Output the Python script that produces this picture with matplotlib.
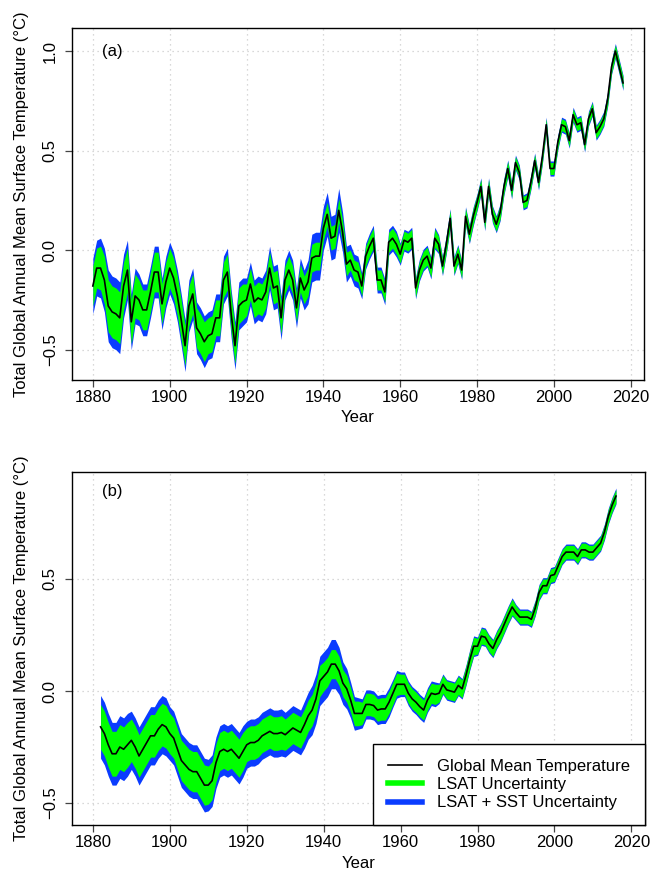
import numpy as np
import matplotlib.pyplot as plt

plt.rcParams['font.family'] = ['Liberation Sans', 'DejaVu Sans']
plt.rcParams['font.size'] = 12

# annual global mean temperature anomalies, 1880-2018
years_a = np.arange(1880, 2019)
temp_a = [
    -0.18, -0.09, -0.09, -0.15, -0.28, -0.31, -0.32, -0.34, -0.18, -0.10,
    -0.36, -0.23, -0.25, -0.30, -0.30, -0.21, -0.11, -0.11, -0.27, -0.16,
    -0.09, -0.14, -0.23, -0.35, -0.48, -0.28, -0.22, -0.39, -0.42, -0.46,
    -0.43, -0.42, -0.34, -0.34, -0.15, -0.11, -0.32, -0.48, -0.28, -0.26,
    -0.25, -0.17, -0.26, -0.24, -0.25, -0.21, -0.09, -0.19, -0.18, -0.34,
    -0.15, -0.10, -0.15, -0.29, -0.14, -0.20, -0.16, -0.04, -0.03, -0.03,
    0.11, 0.18, 0.06, 0.07, 0.20, 0.09, -0.07, -0.05, -0.10, -0.11,
    -0.18, -0.03, 0.02, 0.06, -0.15, -0.15, -0.21, 0.04, 0.06, 0.03,
    -0.02, 0.05, 0.04, 0.06, -0.19, -0.10, -0.05, -0.03, -0.09, 0.06,
    0.03, -0.08, 0.03, 0.16, -0.08, -0.02, -0.10, 0.17, 0.08, 0.17,
    0.24, 0.32, 0.14, 0.32, 0.18, 0.13, 0.19, 0.32, 0.41, 0.30,
    0.44, 0.39, 0.24, 0.25, 0.34, 0.45, 0.34, 0.47, 0.63, 0.41,
    0.41, 0.54, 0.63, 0.62, 0.55, 0.68, 0.63, 0.64, 0.53, 0.66,
    0.71, 0.59, 0.62, 0.66, 0.76, 0.92, 1.00, 0.92, 0.84,
]
# half-width of the LSAT uncertainty band
lsat_a = [
    0.10, 0.10, 0.11, 0.12, 0.13, 0.13, 0.13, 0.13, 0.12, 0.11,
    0.11, 0.11, 0.10, 0.10, 0.10, 0.10, 0.10, 0.10, 0.10, 0.10,
    0.10, 0.10, 0.10, 0.10, 0.10, 0.10, 0.10, 0.10, 0.10, 0.10,
    0.09, 0.09, 0.09, 0.09, 0.09, 0.09, 0.09, 0.09, 0.09, 0.09,
    0.08, 0.08, 0.08, 0.08, 0.08, 0.08, 0.08, 0.08, 0.08, 0.08,
    0.07, 0.07, 0.07, 0.07, 0.07, 0.07, 0.07, 0.07, 0.07, 0.07,
    0.06, 0.06, 0.06, 0.06, 0.06, 0.06, 0.06, 0.05, 0.05, 0.05,
    0.05, 0.05, 0.05, 0.05, 0.05, 0.05, 0.05, 0.05, 0.05, 0.05,
    0.045, 0.045, 0.045, 0.045, 0.045, 0.045, 0.045, 0.045, 0.045, 0.045,
    0.04, 0.04, 0.04, 0.04, 0.04, 0.04, 0.04, 0.04, 0.04, 0.04,
    0.035, 0.035, 0.035, 0.035, 0.035, 0.035, 0.035, 0.035, 0.035, 0.035,
    0.03, 0.03, 0.03, 0.03, 0.03, 0.03, 0.03, 0.03, 0.03, 0.03,
    0.03, 0.03, 0.03, 0.03, 0.03, 0.03, 0.03, 0.03, 0.03, 0.03,
    0.03, 0.03, 0.03, 0.03, 0.03, 0.03, 0.03, 0.03, 0.03,
]
# extra width added by SST uncertainty
sst_a = [
    0.04, 0.04, 0.04, 0.04, 0.05, 0.05, 0.05, 0.05, 0.04, 0.04,
    0.03, 0.03, 0.03, 0.03, 0.03, 0.03, 0.03, 0.03, 0.03, 0.03,
    0.03, 0.03, 0.03, 0.03, 0.03, 0.03, 0.03, 0.03, 0.03, 0.03,
    0.03, 0.03, 0.03, 0.03, 0.03, 0.03, 0.03, 0.03, 0.03, 0.03,
    0.03, 0.03, 0.03, 0.03, 0.03, 0.03, 0.03, 0.03, 0.03, 0.03,
    0.03, 0.03, 0.03, 0.03, 0.03, 0.03, 0.04, 0.05, 0.05, 0.05,
    0.05, 0.05, 0.05, 0.05, 0.05, 0.04, 0.03, 0.03, 0.03, 0.03,
    0.015, 0.015, 0.015, 0.015, 0.015, 0.015, 0.015, 0.015, 0.015, 0.015,
    0.01, 0.01, 0.01, 0.01, 0.01, 0.01, 0.01, 0.01, 0.01, 0.01,
    0.008, 0.008, 0.008, 0.008, 0.008, 0.008, 0.008, 0.008, 0.008, 0.008,
    0.008, 0.008, 0.008, 0.008, 0.008, 0.008, 0.008, 0.008, 0.008, 0.008,
    0.008, 0.008, 0.008, 0.008, 0.008, 0.008, 0.008, 0.008, 0.008, 0.008,
    0.008, 0.008, 0.008, 0.008, 0.008, 0.008, 0.008, 0.008, 0.008, 0.008,
    0.008, 0.008, 0.008, 0.008, 0.008, 0.008, 0.008, 0.008, 0.008,
]

# 5-year running mean, 1882-2016
years_b = np.arange(1882, 2017)
temp_b = [
    -0.16, -0.19, -0.24, -0.28, -0.28, -0.25, -0.26, -0.24,
    -0.22, -0.25, -0.29, -0.26, -0.23, -0.20, -0.20, -0.17, -0.15, -0.16,
    -0.19, -0.21, -0.26, -0.31, -0.33, -0.35, -0.36, -0.36, -0.39, -0.42,
    -0.42, -0.40, -0.32, -0.27, -0.26, -0.27, -0.26, -0.28, -0.30, -0.27,
    -0.24, -0.23, -0.23, -0.22, -0.20, -0.19, -0.18, -0.19, -0.19, -0.185,
    -0.195, -0.18, -0.165, -0.175, -0.185, -0.15, -0.11, -0.085, -0.035, 0.045,
    0.065, 0.085, 0.12, 0.12, 0.09, 0.035, 0.01, -0.04, -0.10, -0.10,
    -0.10, -0.06, -0.06, -0.065, -0.085, -0.08, -0.08, -0.05, -0.01, 0.03,
    0.03, 0.03, -0.01, -0.035, -0.05, -0.07, -0.085, -0.04, -0.01, -0.015,
    -0.01, 0.03, 0.005, 0.0, -0.005, 0.025, 0.01, 0.07, 0.14, 0.20,
    0.20, 0.245, 0.24, 0.21, 0.19, 0.23, 0.26, 0.30, 0.34, 0.375,
    0.35, 0.33, 0.33, 0.33, 0.32, 0.37, 0.44, 0.47, 0.47, 0.515,
    0.52, 0.56, 0.60, 0.62, 0.62, 0.62, 0.60, 0.63, 0.63, 0.62,
    0.62, 0.64, 0.66, 0.71, 0.78, 0.83, 0.87,
]
lsat_b = [
    0.10, 0.10, 0.10, 0.10, 0.10, 0.10, 0.10, 0.10,
    0.095, 0.095, 0.095, 0.095, 0.095, 0.095, 0.095, 0.095, 0.095, 0.095,
    0.09, 0.09, 0.09, 0.09, 0.09, 0.09, 0.09, 0.09, 0.09, 0.09,
    0.085, 0.085, 0.085, 0.085, 0.085, 0.085, 0.085, 0.085, 0.085, 0.085,
    0.075, 0.075, 0.075, 0.075, 0.075, 0.075, 0.075, 0.075, 0.075, 0.075,
    0.07, 0.07, 0.07, 0.07, 0.07, 0.07, 0.07, 0.07, 0.07, 0.07,
    0.065, 0.065, 0.065, 0.065, 0.065, 0.06, 0.06, 0.055, 0.055, 0.055,
    0.05, 0.05, 0.05, 0.05, 0.05, 0.05, 0.05, 0.05, 0.05, 0.05,
    0.045, 0.045, 0.045, 0.045, 0.045, 0.045, 0.045, 0.045, 0.045, 0.045,
    0.04, 0.04, 0.04, 0.04, 0.04, 0.04, 0.04, 0.04, 0.04, 0.04,
    0.035, 0.035, 0.035, 0.035, 0.035, 0.035, 0.035, 0.035, 0.035, 0.035,
    0.03, 0.03, 0.03, 0.03, 0.03, 0.03, 0.03, 0.03, 0.03, 0.03,
    0.03, 0.03, 0.03, 0.03, 0.03, 0.03, 0.03, 0.03, 0.03, 0.03,
    0.03, 0.03, 0.03, 0.03, 0.03, 0.03, 0.03,
]
sst_b = [
    0.04, 0.04, 0.04, 0.04, 0.04, 0.04, 0.04, 0.04,
    0.035, 0.035, 0.035, 0.035, 0.035, 0.035, 0.035, 0.035, 0.035, 0.035,
    0.03, 0.03, 0.03, 0.03, 0.03, 0.03, 0.03, 0.03, 0.03, 0.03,
    0.03, 0.03, 0.03, 0.03, 0.03, 0.03, 0.03, 0.03, 0.03, 0.03,
    0.03, 0.03, 0.03, 0.03, 0.03, 0.03, 0.03, 0.03, 0.03, 0.03,
    0.03, 0.03, 0.03, 0.03, 0.03, 0.035, 0.035, 0.04, 0.04, 0.04,
    0.045, 0.045, 0.045, 0.045, 0.04, 0.035, 0.03, 0.025, 0.02, 0.015,
    0.015, 0.015, 0.015, 0.015, 0.015, 0.015, 0.015, 0.015, 0.012, 0.012,
    0.01, 0.01, 0.01, 0.01, 0.01, 0.01, 0.01, 0.01, 0.01, 0.01,
    0.006, 0.006, 0.006, 0.006, 0.006, 0.006, 0.006, 0.006, 0.006, 0.006,
    0.006, 0.006, 0.006, 0.006, 0.006, 0.006, 0.006, 0.006, 0.006, 0.006,
    0.006, 0.006, 0.006, 0.006, 0.006, 0.006, 0.006, 0.006, 0.006, 0.006,
    0.006, 0.006, 0.006, 0.006, 0.006, 0.006, 0.006, 0.006, 0.006, 0.006,
    0.006, 0.006, 0.006, 0.006, 0.006, 0.006, 0.006,
]

GREEN = '#00FF00'
BLUE = '#0A3CFF'
ylabel = 'Total Global Annual Mean Surface Temperature (°C)'


def draw_panel(ax, years, temp, lsat, sst, ylim, yticks, tag, tag_y):
    temp = np.array(temp)
    lsat = np.array(lsat)
    outer = lsat + np.array(sst)
    ax.fill_between(years, temp - outer, temp + outer, color=BLUE, lw=0, zorder=2)
    ax.fill_between(years, temp - lsat, temp + lsat, color=GREEN, lw=0, zorder=3)
    ax.plot(years, temp, color='black', lw=1.2, zorder=4)

    ax.set_xlim(1874.5, 2023.5)
    ax.set_ylim(*ylim)
    ax.set_xticks(range(1880, 2021, 20))
    ax.set_yticks(yticks)
    ax.set_yticklabels([f'{v:.1f}'.replace('-', '\u2212') for v in yticks],
                       rotation=90, va='center')
    ax.grid(True, color='#cccccc', ls=(0, (1, 3)), lw=0.9, zorder=0)
    ax.set_axisbelow(True)
    for sp in ax.spines.values():
        sp.set_linewidth(1.0)
    ax.tick_params(direction='out', length=5, width=0.9, labelsize=12,
                   color='#444444')
    ax.tick_params(axis='x', pad=2)
    ax.tick_params(axis='y', pad=5)
    ax.set_xlabel('Year', fontsize=12, labelpad=4)
    ax.set_ylabel(ylabel, fontsize=12, labelpad=10)
    ax.text(1885, tag_y, tag, fontsize=12, ha='center', va='center')


fig = plt.figure(figsize=(6.52, 8.8), dpi=100)
ax1 = fig.add_axes([0.110, 0.568, 0.878, 0.400])
ax2 = fig.add_axes([0.110, 0.062, 0.879, 0.402])

draw_panel(ax1, years_a, temp_a, lsat_a, sst_a, (-0.653, 1.115),
           [-0.5, 0.0, 0.5, 1.0], '(a)', 1.0)
draw_panel(ax2, years_b, temp_b, lsat_b, sst_b, (-0.60, 0.979),
           [-0.5, 0.0, 0.5], '(b)', 0.89)

handles = [
    plt.Line2D([], [], color='black', lw=1.2),
    plt.Line2D([], [], color=GREEN, lw=4),
    plt.Line2D([], [], color=BLUE, lw=4),
]
leg = ax2.legend(handles, ['Global Mean Temperature', 'LSAT Uncertainty',
                           'LSAT + SST Uncertainty'],
                 loc='lower right', bbox_to_anchor=(1.0, 0.0), borderaxespad=0,
                 fancybox=False, framealpha=1, edgecolor='black',
                 fontsize=12, handlelength=2.0, borderpad=0.9,
                 labelspacing=0.2, handletextpad=0.9)
leg.get_frame().set_linewidth(1.0)
leg.set_zorder(5)

fig.savefig('out.png', dpi=100)
